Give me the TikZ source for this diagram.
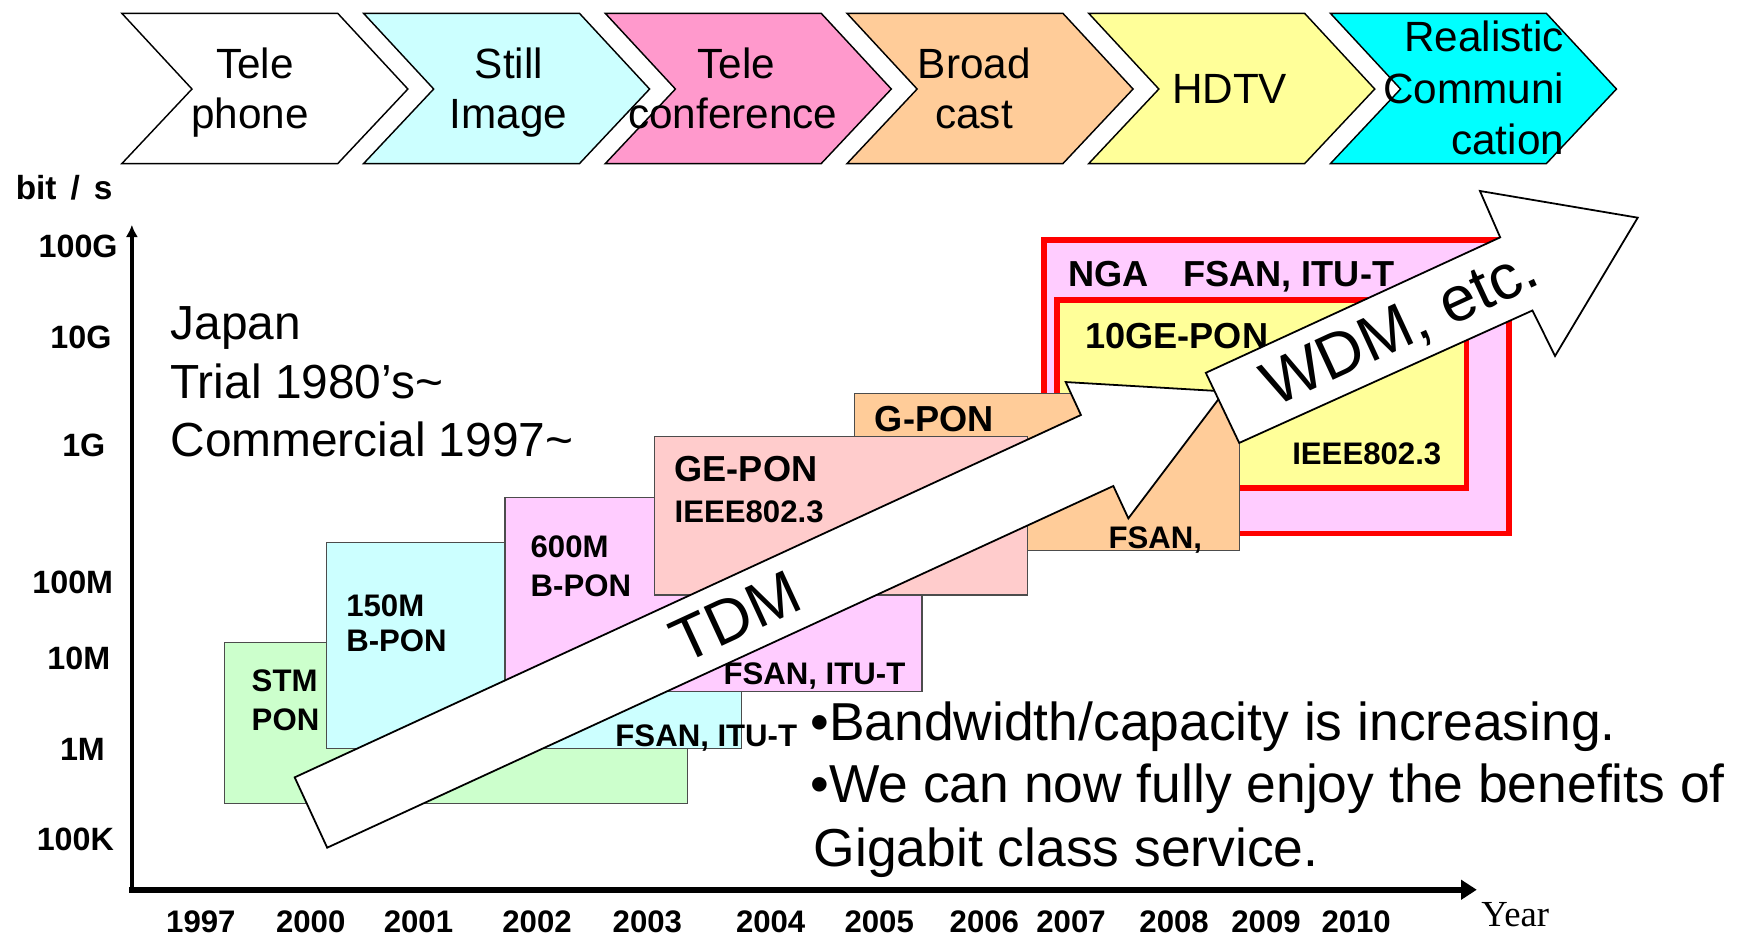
\documentclass[tikz,border=0pt]{standalone}
\usepackage{fontspec}
\setmainfont{Liberation Sans}
\newfontfamily\yearfont{Liberation Serif}
\usetikzlibrary{arrows.meta}
\definecolor{cTel}{HTML}{FFFFFF}
\definecolor{cStill}{HTML}{CCFFFF}
\definecolor{cConf}{HTML}{FF99CC}
\definecolor{cBroad}{HTML}{FFCC99}
\definecolor{cHDTV}{HTML}{FFFF99}
\definecolor{cReal}{HTML}{00FFFF}
\definecolor{cSTM}{HTML}{CCFFCC}
\definecolor{cBpon}{HTML}{CCFFFF}
\definecolor{cSixH}{HTML}{FFCCFF}
\definecolor{cGE}{HTML}{FFCCCC}
\definecolor{cGPON}{HTML}{FFCC99}
\definecolor{cNGA}{HTML}{FFCCFF}
\definecolor{cTenG}{HTML}{FFFF99}
\definecolor{cRed}{HTML}{FF0000}
\begin{document}
\begin{tikzpicture}[x=1pt,y=-1pt,
  chev/.style={draw=black, line width=1.3pt, line join=miter},
  pbox/.style={draw=black!70, line width=1pt},
  redbox/.style={draw=cRed, line width=5pt},
  bigarrow/.style={draw=black, fill=white, line width=1.6pt, line join=miter},
  ctext/.style={font=\fontsize{38}{45}\selectfont, anchor=base, inner sep=0pt},
  jtext/.style={font=\fontsize{43}{52}\selectfont, anchor=base west, inner sep=0pt},
  btext/.style={font=\fontsize{48}{57}\selectfont, anchor=base west, inner sep=0pt},
  lbl/.style={font=\bfseries\fontsize{28}{33}\selectfont, anchor=base west, inner sep=0pt},
  lblb/.style={font=\bfseries\fontsize{32.5}{38}\selectfont, anchor=base west, inner sep=0pt},
  axl/.style={font=\bfseries\fontsize{29}{34}\selectfont, anchor=base, inner sep=0pt},
  yrl/.style={font=\bfseries\fontsize{28}{33}\selectfont, anchor=base, inner sep=0pt},
  arrtext/.style={font=\fontsize{#1}{#1}\selectfont, inner sep=0pt, rotate=24.8}
]
\useasboundingbox (0,0) rectangle (1568,842);
\fill[white] (0,0) rectangle (1568,842);

% ---- chevrons ----
\foreach \i/\c in {0/cTel,1/cStill,2/cConf,3/cBroad,4/cHDTV,5/cReal}{
  \pgfmathsetmacro\L{109.5+217.2*\i}
  \draw[chev, fill=\c] (\L,12) -- ++(194,0) -- ++(63,68) -- ++(-63,67) -- ++(-194,0) -- ++(63,-67) -- cycle;
}
\node[ctext] (c1a) at (229.2,70.4) {Tele};
\node[ctext] (c1b) at (224.5,115.3) {phone};
\node[ctext] (c2a) at (457.4,70.4) {Still};
\node[ctext] (c2b) at (457.1,115.3) {Image};
\node[ctext] (c3a) at (661.7,70.4) {Tele};
\node[ctext] (c3b) at (658.5,115.3) {conference};
\node[ctext] (c4a) at (875.4,70.4) {Broad};
\node[ctext] (c4b) at (875.3,115.3) {cast};
\node[ctext] (c5a) at (1104.9,92.8) {HDTV};
\node[ctext, anchor=base east] (c6a) at (1405.6,46.4) {Realistic};
\node[ctext, anchor=base east] (c6b) at (1405.6,93) {Communi};
\node[ctext, anchor=base east] (c6c) at (1405.6,138.5) {cation};

% ---- axes ----
\coordinate (origin) at (118.5,799.5);
\coordinate (ytop) at (118.5,202);
\coordinate (xend) at (1327,799.5);
\coordinate (xstart) at (116.3,799.5);
\draw[line width=3.5pt, -{Latex[length=11pt,width=11pt]}] (118.5,801) -- (ytop);
\draw[line width=5pt, -{Triangle[length=14pt,width=17pt]}] (xstart) -- (xend);

\node[font=\bfseries\fontsize{30}{34}\selectfont, anchor=base west, inner sep=0pt] (ylab) at (14,179.7) {bit\hspace{0.42em}/\hspace{0.42em}s};
\node[axl] (v1) at (70.2,231.5) {100G};
\node[axl] (v2) at (72.7,313) {10G};
\node[axl] (v3) at (75.3,410.3) {1G};
\node[axl] (v4) at (65.4,533) {100M};
\node[axl] (v5) at (70.8,602) {10M};
\node[axl] (v6) at (74.1,683) {1M};
\node[axl] (v7) at (67.7,763.8) {100K};

\node[yrl] (y1) at (180.5,838) {1997};
\node[yrl] (y2) at (279.2,838) {2000};
\node[yrl] (y3) at (376,838) {2001};
\node[yrl] (y4) at (482.6,838) {2002};
\node[yrl] (y5) at (581.7,838) {2003};
\node[yrl] (y6) at (692.5,838) {2004};
\node[yrl] (y7) at (790,838) {2005};
\node[yrl] (y8) at (884.5,838) {2006};
\node[yrl] (y9) at (962.4,838) {2007};
\node[yrl] (y10) at (1055,838) {2008};
\node[yrl] (y11) at (1137.6,838) {2009};
\node[yrl] (y12) at (1218.6,838) {2010};
\node[font=\yearfont\fontsize{33}{36}\selectfont, anchor=base west, inner sep=0pt] (yearlab) at (1331,832.7) {Year};

% ---- Japan text ----
\node[jtext] (jp1) at (153,305.5) {Japan};
\node[jtext] (jp2) at (153,357.9) {Trial 1980’s\textasciitilde};
\node[jtext] (jp3) at (153,409.8) {Commercial 1997\textasciitilde};

% ---- boxes ----
\draw[pbox, fill=cSTM] (201.8,577.5) rectangle (618,721.6);
\node[lbl] (stm1) at (226,621.5) {STM};
\node[lbl] (stm2) at (226,656) {PON};

\draw[pbox, fill=cBpon] (293.2,487.3) rectangle (666,672.4);
\node[lbl] (b1a) at (311,554) {150M};
\node[lbl] (b1b) at (311,585.6) {B-PON};
\node[lbl] (b1c) at (552.8,671) {FSAN, ITU-T};

\draw[pbox, fill=cSixH] (453.8,446.9) rectangle (828.5,621);
\node[lbl] (b2a) at (476.6,500.8) {600M};
\node[lbl] (b2b) at (476.6,536) {B-PON};
\node[lbl] (b2c) at (650,615.5) {FSAN, ITU-T};

\draw[redbox, fill=cNGA] (938,215.5) rectangle (1356,479.2);
\node[lblb] (nga1) at (960,257.6) {NGA};
\node[lblb] (nga2) at (1063,257.6) {FSAN, ITU-T};
\draw[redbox, fill=cTenG] (949.6,269.7) rectangle (1317.8,438.4);
\node[lblb] (teng1) at (975,313) {10GE-PON};
\node[lbl] (teng2) at (1161,417) {IEEE802.3};

\draw[pbox, fill=cGPON] (768,353.4) rectangle (1114,494.8);
\node[lblb] (gp1) at (786,388) {G-PON};
\node[lbl] (gp2) at (996,492.7) {FSAN,};

\draw[pbox, fill=cGE] (588.5,392.4) rectangle (923,534.6);
\node[lblb] (ge1) at (606,432.8) {GE-PON};
\node[lbl] (ge2) at (606,469.4) {IEEE802.3};

% ---- TDM arrow ----
\draw[bigarrow] (264.8,698.5) -- (971.3,372.9) -- (957.6,343.3) -- (1100.2,351.7)
  -- (1013.9,465.8) -- (1000.4,436.7) -- (294,761.7) -- cycle;
\node[arrtext=56] (tdm) at (661,554) {TDM};

% ---- WDM arrow ----
\draw[bigarrow] (1083.5,335) -- (1348,213.3) -- (1329.8,171.6) -- (1471.6,195.6)
  -- (1397.3,319.9) -- (1377,279) -- (1113.5,398) -- cycle;
\node[arrtext=57] (wdm) at (1259,296) {WDM, etc.};

% ---- bottom text ----
\node[btext] (bt1) at (728,665) {•Bandwidth/capacity is increasing.};
\node[btext] (bt2) at (728,721.5) {•We can now fully enjoy the benefits of};
\node[btext] (bt3) at (731,778.8) {Gigabit class service.};
\end{tikzpicture}
\end{document}
